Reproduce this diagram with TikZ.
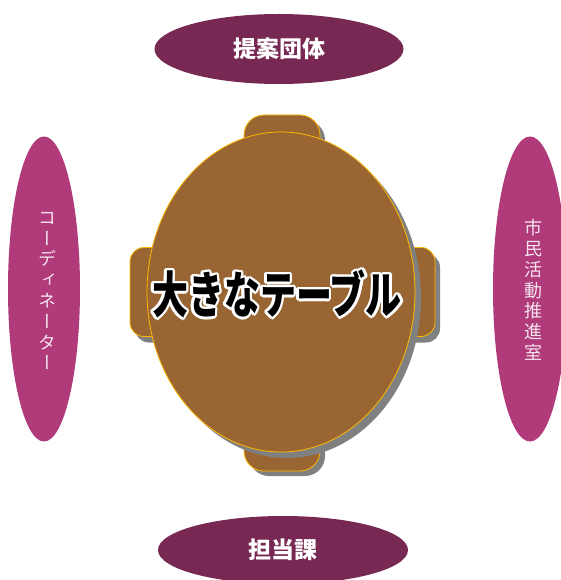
\documentclass[tikz,border=0pt]{standalone}
\usepackage{fontspec}
\usepackage{graphicx}
\usetikzlibrary{shapes.geometric,calc}
\newfontfamily\cjk{Noto Sans CJK JP}
\newfontfamily\cjkv[RawFeature=+vert]{Noto Sans CJK JP}
\definecolor{plum}{RGB}{119,41,83}
\definecolor{orchid}{RGB}{176,58,122}
\definecolor{tablebrown}{RGB}{153,102,51}
\definecolor{tableedge}{RGB}{255,184,0}
\definecolor{shadowgray}{RGB}{128,128,128}
\definecolor{paletext}{RGB}{245,228,238}
\begin{document}
\begin{tikzpicture}[x=1pt,y=-1pt,
  roleh/.style={ellipse, inner sep=0pt, fill=plum, draw=none, text=white,
    font=\cjk\bfseries\fontsize{23}{23}\selectfont},
  rolev/.style={ellipse, inner sep=0pt, fill=orchid, draw=none},
  vtext/.style={align=center, inner sep=0pt, text=paletext,
    font=\cjkv\fontsize{18}{20.8}\selectfont},
  chairbox/.style={rectangle, inner sep=0pt,
    fill=tablebrown, draw=tableedge, line width=0.8pt},
  chairshade/.style={rectangle, inner sep=0pt,
    fill=shadowgray, draw=none},
  tablebox/.style={ellipse, inner sep=0pt, fill=tablebrown, draw=tableedge,
    line width=0.8pt, minimum width=268pt, minimum height=320pt},
  tableshade/.style={ellipse, inner sep=0pt, fill=shadowgray, draw=none,
    minimum width=268pt, minimum height=320pt},
  titlefont/.style={inner sep=0pt, font=\cjk\bfseries\fontsize{50}{50}\selectfont}
]
\useasboundingbox (0,0) rectangle (560,580);
\fill[white] (0,0) rectangle (560,580);

% role ellipses
\node[roleh, minimum width=249pt, minimum height=70pt] (teian) at (279,49) {提案団体};
\node[roleh, minimum width=250pt, minimum height=68pt] (tanto) at (283,550) {担当課};
\node[rolev, minimum width=72pt, minimum height=305pt] (coordell) at (44,289) {};
\node[rolev, minimum width=74pt, minimum height=305pt] (shiminell) at (530,289) {};
\node[vtext] (coordtext) at (47,291) {コ\\ー\\デ\\ィ\\ネ\\ー\\タ\\ー};
\node[vtext] (shimintext) at (533,290) {市\\民\\活\\動\\推\\進\\室};

% chairs with shadows
\begin{scope}[rounded corners=20pt]
\node[chairshade, minimum width=76pt, minimum height=56pt] (topshade) at (287,148) {};
\node[chairbox, minimum width=76pt, minimum height=56pt] (topchair) at (282,143) {};
\node[chairshade, minimum width=76pt, minimum height=56pt] (botshade) at (287,448) {};
\node[chairbox, minimum width=76pt, minimum height=56pt] (botchair) at (282,443) {};
\end{scope}
\begin{scope}[rounded corners=14pt]
\node[chairshade, minimum width=46pt, minimum height=89pt] (leftshade) at (158,298) {};
\node[chairbox, minimum width=46pt, minimum height=89pt] (leftchair) at (153,292) {};
\node[chairshade, minimum width=46pt, minimum height=89pt] (rightshade) at (417,298) {};
\node[chairbox, minimum width=46pt, minimum height=89pt] (rightchair) at (412,292) {};
\end{scope}

% table
\node[tableshade] (tshade) at (287,298) {};
\node[tablebox] (table) at (281,292) {};

% title with white outline
\foreach \a [count=\i] in {0,22.5,...,337.5}{
  \node[titlefont, text=white] (halo\i) at ($(277,294)+(\a:2.4)$) {\scalebox{0.72}[1]{大きなテーブル}};
}
\node[titlefont, text=black] (title) at (277,294) {\scalebox{0.72}[1]{大きなテーブル}};
\end{tikzpicture}
\end{document}
